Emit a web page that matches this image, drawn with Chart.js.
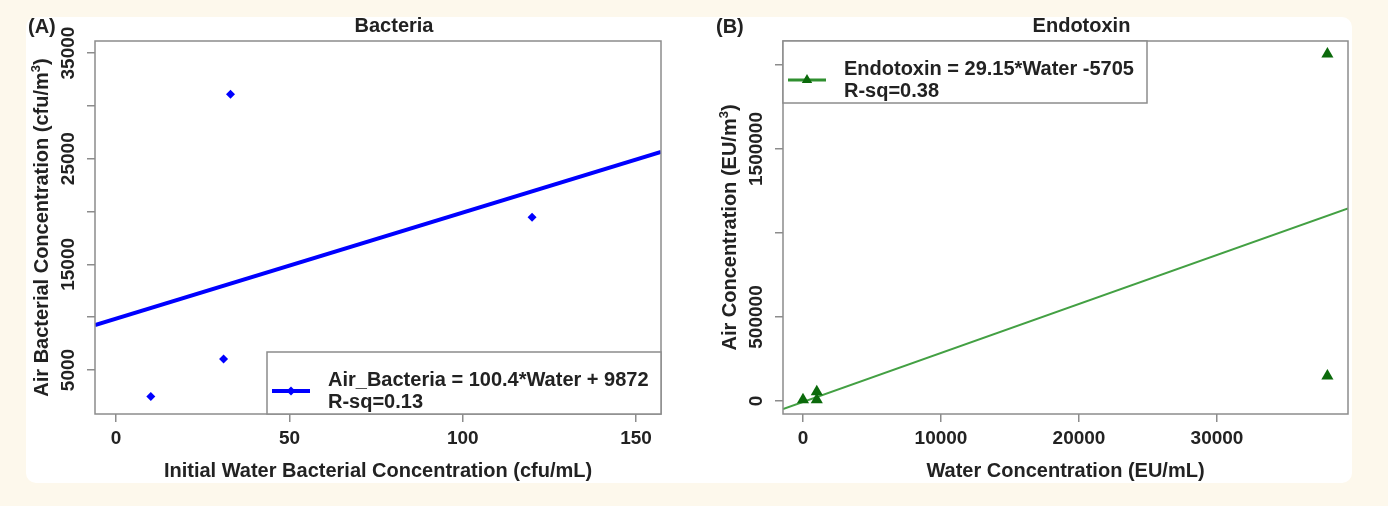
<!DOCTYPE html>
<html>
<head>
<meta charset="utf-8">
<title>Bacteria / Endotoxin</title>
<script src="https://cdn.jsdelivr.net/npm/chart.js@4.4.1/dist/chart.umd.min.js"></script>
<style>
    body { margin: 0; background: #fdf8ec; width: 1388px; height: 506px; overflow: hidden; position: relative; }
    #panel { position: absolute; left: 26px; top: 17px; width: 1326px; height: 466px; background: #ffffff; border-radius: 10px; }
    .box { position: absolute; top: 0; width: 694px; height: 506px; }
</style>
</head>
<body>
<div id="panel"></div>
<div class="box" style="left:0"><canvas id="chartA"></canvas></div>
<div class="box" style="left:694px"><canvas id="chartB"></canvas></div>

<script>
// Data (A) Bacteria
const bacteriaWater = [10, 31, 33, 120];
const bacteriaAir = [2500, 6050, 31100, 19450];
const bacteriaFit = { slope: 100.4, intercept: 9872 };
const bacteriaXTicks = [0, 50, 100, 150];
const bacteriaYTicks = [5000, 10000, 15000, 20000, 25000, 30000, 35000];
const bacteriaYLabels = [5000, 15000, 25000, 35000];

// Data (B) Endotoxin
const endoWater = [0, 1000, 1000, 38000, 38000];
const endoAir = [8000, 55000, 8000, 2065000, 149000];
const endoFit = { slope: 29.15, intercept: -5705 };
const endoXTicks = [0, 10000, 20000, 30000];
const endoYTicks = [0, 500000, 1000000, 1500000, 2000000];
const endoYLabels = [0, 500000, 1500000];

const FONT = '"Liberation Sans", Arial, sans-serif';
const TEXT = '#222222';
const FRAME = '#8c8c8c';

function toPoints(xs, ys) {
    return xs.map((x, i) => ({ x: x, y: ys[i] }));
}

function fitLine(fit, xMin, xMax) {
    return [
        { x: xMin, y: fit.slope * xMin + fit.intercept },
        { x: xMax, y: fit.slope * xMax + fit.intercept }
    ];
}

function drawMarker(ctx, style, x, y, r, color) {
    ctx.fillStyle = color;
    ctx.beginPath();
    if (style === 'rectRot') {
        ctx.moveTo(x - r, y);
        ctx.lineTo(x, y - r);
        ctx.lineTo(x + r, y);
        ctx.lineTo(x, y + r);
    } else {
        ctx.moveTo(x, y - r);
        ctx.lineTo(x + r * 0.866, y + r * 0.5);
        ctx.lineTo(x - r * 0.866, y + r * 0.5);
    }
    ctx.closePath();
    ctx.fill();
}

// rotated text with a superscript 3
function drawYTitle(ctx, x, y, main, tail) {
    ctx.save();
    ctx.translate(x, y);
    ctx.rotate(-Math.PI / 2);
    ctx.font = 'bold 20px ' + FONT;
    const w1 = ctx.measureText(main).width;
    const w3 = ctx.measureText(tail).width;
    ctx.font = 'bold 13px ' + FONT;
    const w2 = ctx.measureText('3').width;
    const start = -(w1 + w2 + w3) / 2;
    ctx.fillStyle = TEXT;
    ctx.textAlign = 'left';
    ctx.textBaseline = 'alphabetic';
    ctx.font = 'bold 20px ' + FONT;
    ctx.fillText(main, start, 0);
    ctx.fillText(tail, start + w1 + w2, 0);
    ctx.font = 'bold 13px ' + FONT;
    ctx.fillText('3', start + w1, -8);
    ctx.restore();
}

// Frame, titles, y labels and legend box (R style)
const decorPlugin = {
    id: 'decor',
    afterDraw(chart, args, opts) {
        const ctx = chart.ctx;
        const area = chart.chartArea;
        const yScale = chart.scales.y;
        ctx.save();

        // frame
        ctx.strokeStyle = FRAME;
        ctx.lineWidth = 1.5;
        ctx.strokeRect(area.left, area.top, area.right - area.left, area.bottom - area.top);

        ctx.fillStyle = TEXT;
        ctx.font = 'bold 20px ' + FONT;
        ctx.textBaseline = 'alphabetic';

        // panel letter
        ctx.textAlign = 'left';
        ctx.fillText(opts.letter, area.left - 67, 33);

        // main title
        ctx.textAlign = 'center';
        ctx.fillText(opts.title, (area.left + area.right) / 2 + 16, 32);

        // x title
        ctx.fillText(opts.xTitle, (area.left + area.right) / 2, 477);

        // y title
        drawYTitle(ctx, area.left - 47, (area.top + area.bottom) / 2, opts.yTitle, ')');

        // y tick labels, rotated like R
        ctx.font = 'bold 19px ' + FONT;
        opts.yLabels.forEach(v => {
            const py = yScale.getPixelForValue(v);
            ctx.save();
            ctx.translate(area.left - 26, py);
            ctx.rotate(-Math.PI / 2);
            ctx.textAlign = 'center';
            ctx.textBaseline = 'middle';
            ctx.fillText(String(v), 0, 0);
            ctx.restore();
        });

        // legend
        const lg = opts.legend;
        const bx = lg.corner === 'bottomright' ? area.right - lg.width : area.left;
        const by = lg.corner === 'bottomright' ? area.bottom - 62 : area.top;
        ctx.fillStyle = '#ffffff';
        ctx.fillRect(bx, by, lg.width, 62);
        ctx.strokeStyle = FRAME;
        ctx.lineWidth = 1.5;
        ctx.strokeRect(bx, by, lg.width, 62);
        ctx.strokeStyle = lg.lineColor;
        ctx.lineWidth = lg.lineWidth;
        ctx.beginPath();
        ctx.moveTo(bx + 5, by + 39);
        ctx.lineTo(bx + 43, by + 39);
        ctx.stroke();
        drawMarker(ctx, lg.marker, bx + 24, by + 39, lg.markerSize, lg.markerColor);
        ctx.fillStyle = TEXT;
        ctx.font = 'bold 20px ' + FONT;
        ctx.textAlign = 'left';
        ctx.textBaseline = 'alphabetic';
        ctx.fillText(lg.line1, bx + 61, by + 34);
        ctx.fillText(lg.line2, bx + 61, by + 56);

        ctx.restore();
    }
};

function makeScales(xMin, xMax, xTicks, yMin, yMax, yTicks) {
    const grid = { display: true, drawOnChartArea: false, drawTicks: true, tickLength: 8, color: FRAME, lineWidth: 1.5 };
    return {
        x: {
            type: 'linear',
            min: xMin,
            max: xMax,
            grid: grid,
            border: { display: false },
            afterBuildTicks: scale => { scale.ticks = xTicks.map(v => ({ value: v })); },
            afterFit: scale => { scale.height = 40; },
            ticks: {
                autoSkip: false,
                maxRotation: 0,
                padding: 5,
                color: TEXT,
                font: { family: FONT, size: 19, weight: 'bold' },
                callback: v => String(v)
            }
        },
        y: {
            type: 'linear',
            min: yMin,
            max: yMax,
            grid: grid,
            border: { display: false },
            afterBuildTicks: scale => { scale.ticks = yTicks.map(v => ({ value: v })); },
            afterFit: scale => { scale.width = 30; },
            ticks: { display: false }
        }
    };
}

function initCharts() {
    // (A) Bacteria
    const aX = [-6.1, 157.2];
    new Chart(document.getElementById('chartA'), {
        type: 'scatter',
        data: {
            datasets: [{
                label: 'Bacteria',
                data: toPoints(bacteriaWater, bacteriaAir),
                pointStyle: 'rectRot',
                pointRadius: 4.5,
                backgroundColor: '#0000ff',
                borderWidth: 0
            }, {
                label: 'Fit',
                data: fitLine(bacteriaFit, aX[0], aX[1]),
                showLine: true,
                borderColor: '#0000ff',
                borderWidth: 4,
                pointRadius: 0
            }]
        },
        options: {
            responsive: true,
            maintainAspectRatio: false,
            animation: false,
            layout: { padding: { left: 65, right: 33, top: 41, bottom: 52 } },
            plugins: {
                legend: { display: false },
                tooltip: { enabled: false },
                decor: {
                    letter: '(A)',
                    title: 'Bacteria',
                    xTitle: 'Initial Water Bacterial Concentration (cfu/mL)',
                    yTitle: 'Air Bacterial Concentration (cfu/m',
                    yLabels: bacteriaYLabels,
                    legend: {
                        corner: 'bottomright', width: 394,
                        lineColor: '#0000ff', lineWidth: 4,
                        marker: 'rectRot', markerSize: 4.5, markerColor: '#0000ff',
                        line1: 'Air_Bacteria = 100.4*Water + 9872',
                        line2: 'R-sq=0.13'
                    }
                }
            },
            scales: makeScales(aX[0], aX[1], bacteriaXTicks, 840, 36140, bacteriaYTicks)
        },
        plugins: [decorPlugin]
    });

    // (B) Endotoxin
    const bX = [-1449, 39493];
    new Chart(document.getElementById('chartB'), {
        type: 'scatter',
        data: {
            datasets: [{
                label: 'Endotoxin',
                data: toPoints(endoWater, endoAir),
                pointStyle: 'triangle',
                pointRadius: 7,
                backgroundColor: '#0b6a0b',
                borderWidth: 0
            }, {
                label: 'Fit',
                data: fitLine(endoFit, bX[0], bX[1]),
                showLine: true,
                borderColor: '#43a043',
                borderWidth: 2,
                pointRadius: 0
            }]
        },
        options: {
            responsive: true,
            maintainAspectRatio: false,
            animation: false,
            layout: { padding: { left: 59, right: 40, top: 41, bottom: 52 } },
            plugins: {
                legend: { display: false },
                tooltip: { enabled: false },
                decor: {
                    letter: '(B)',
                    title: 'Endotoxin',
                    xTitle: 'Water Concentration (EU/mL)',
                    yTitle: 'Air Concentration (EU/m',
                    yLabels: endoYLabels,
                    legend: {
                        corner: 'topleft', width: 364,
                        lineColor: '#2f8f2f', lineWidth: 3,
                        marker: 'triangle', markerSize: 6, markerColor: '#0b6a0b',
                        line1: 'Endotoxin = 29.15*Water -5705',
                        line2: 'R-sq=0.38'
                    }
                }
            },
            scales: makeScales(bX[0], bX[1], endoXTicks, -77380, 2142857, endoYTicks)
        },
        plugins: [decorPlugin]
    });
}

document.addEventListener('DOMContentLoaded', initCharts);
</script>
</body>
</html>
